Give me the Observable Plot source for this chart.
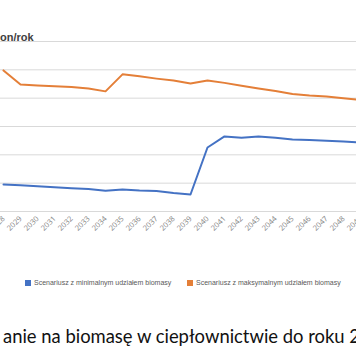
<!DOCTYPE html>
<html>
<head>
<meta charset="utf-8">
<script src="https://cdn.jsdelivr.net/npm/d3@7"></script>
<script src="https://cdn.jsdelivr.net/npm/@observablehq/plot@0.6"></script>
<style>
html,body{margin:0;padding:0;background:#fff;overflow:hidden;}
#wrap{position:relative;width:356px;height:364px;overflow:hidden;background:#fff;}
#chart{position:absolute;left:0;top:0;width:356px;height:240px;overflow:hidden;}
#chart svg{overflow:hidden;}
#unit{position:absolute;left:0;top:31px;font:bold 11px "Liberation Sans",Arial,sans-serif;color:#404040;line-height:12px;white-space:nowrap;}
.leg{position:absolute;top:279px;font:7px "Liberation Sans",Arial,sans-serif;color:#595959;white-space:nowrap;line-height:8px;display:flex;align-items:center;}
.sw{display:inline-block;width:6px;height:6px;margin-right:3px;}
#titleSvg{position:absolute;left:0;top:320px;overflow:hidden;}
</style>
</head>
<body>
<div id="wrap">
  <div id="chart"></div>
  <div id="unit"></div>
  <div id="leg0" class="leg" style="left:25px"></div>
  <div id="leg1" class="leg" style="left:187px"></div>
  <svg id="titleSvg" width="356" height="40"><text id="title" x="3" y="23" font-family="Lato, 'Open Sans', sans-serif" font-size="19.5" fill="#111" lengthAdjust="spacingAndGlyphs" textLength="357"></text></svg>
</div>
<script>
const years = [2028,2029,2030,2031,2032,2033,2034,2035,2036,2037,2038,2039,2040,2041,2042,2043,2044,2045,2046,2047,2048,2049];
const minBiomass = [0.95,0.93,0.89,0.86,0.82,0.79,0.73,0.78,0.74,0.72,0.65,0.60,2.26,2.65,2.60,2.65,2.60,2.54,2.52,2.50,2.47,2.44];
const maxBiomass = [4.98,4.48,4.45,4.42,4.39,4.34,4.24,4.84,4.77,4.69,4.62,4.52,4.62,4.54,4.44,4.34,4.25,4.15,4.09,4.06,4.00,3.94];
const seriesNames = ["Scenariusz z minimalnym udziałem biomasy","Scenariusz z maksymalnym udziałem biomasy"];
const yTicks = [1,2,3,4,5,6];
const unitLabel = "on/rok";
const titleText = "anie na biomasę w ciepłownictwie do roku 2";

const seriesColors = ["#4472C4","#E47F38"];

const data = [];
years.forEach((yr,i)=>{
  data.push({year:yr, value:minBiomass[i], series:seriesNames[0]});
  data.push({year:yr, value:maxBiomass[i], series:seriesNames[1]});
});

const plot = Plot.plot({
  width:356, height:240,
  marginTop:41, marginBottom:29, marginLeft:0, marginRight:0,
  style:{background:"transparent", overflow:"hidden"},
  x:{type:"linear", domain:[2028,2049], range:[3,360], axis:null},
  y:{domain:[0,6], axis:null},
  color:{domain:seriesNames, range:seriesColors},
  marks:[
    Plot.gridY(yTicks,{stroke:"#d9d9d9", strokeOpacity:1, strokeWidth:1}),
    Plot.ruleY([0],{stroke:"#d9d9d9", strokeWidth:1}),
    Plot.axisX(years,{tickSize:0, tickRotate:-45, tickPadding:6, tickFormat:d=>String(d), fontSize:7.5, fill:"#8a8a8a", label:null}),
    Plot.line(data,{x:"year", y:"value", z:"series", stroke:"series", strokeWidth:2, strokeLinejoin:"round"})
  ]
});
document.getElementById("chart").appendChild(plot);

document.getElementById("unit").textContent = unitLabel;
seriesNames.forEach((name,i)=>{
  const el = document.getElementById("leg"+i);
  const sw = document.createElement("span");
  sw.className = "sw"; sw.style.background = seriesColors[i];
  const tx = document.createElement("span");
  tx.textContent = name;
  el.appendChild(sw); el.appendChild(tx);
});
document.getElementById("title").textContent = titleText;
</script>
</body>
</html>
